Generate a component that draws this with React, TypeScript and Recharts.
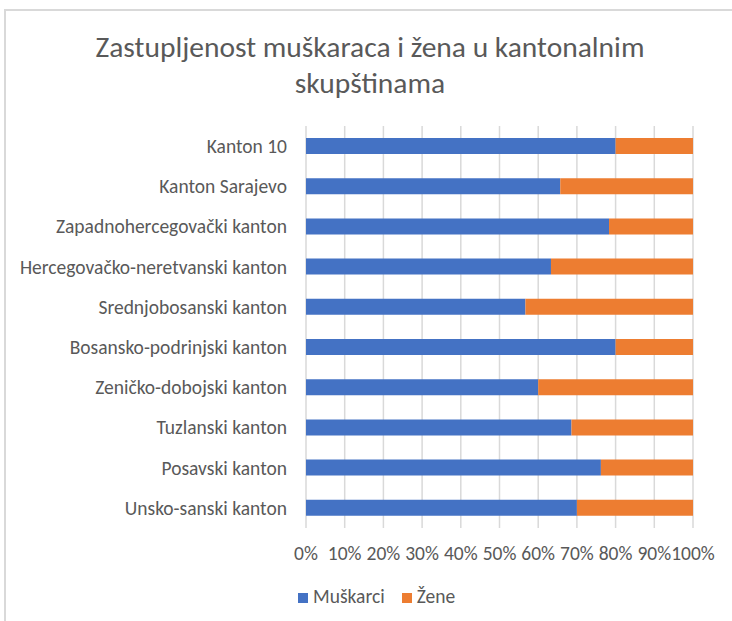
import React from "react";
import { BarChart, Bar, XAxis, YAxis, CartesianGrid } from "recharts";

const cantons = [
  "Unsko-sanski kanton",
  "Posavski kanton",
  "Tuzlanski kanton",
  "Zeničko-dobojski kanton",
  "Bosansko-podrinjski kanton",
  "Srednjobosanski kanton",
  "Hercegovačko-neretvanski kanton",
  "Zapadnohercegovački kanton",
  "Kanton Sarajevo",
  "Kanton 10",
];
const muskarci = [70.0, 76.2, 68.6, 60.0, 80.0, 56.7, 63.3, 78.3, 65.7, 80.0];
const zene = [30.0, 23.8, 31.4, 40.0, 20.0, 43.3, 36.7, 21.7, 34.3, 20.0];
const xTicks = [0, 0.1, 0.2, 0.3, 0.4, 0.5, 0.6, 0.7, 0.8, 0.9, 1];
const titleLines = ["Zastupljenost muškaraca i žena u kantonalnim", "skupštinama"];
const series = [
  { key: "Muškarci", color: "#4472C4" },
  { key: "Žene", color: "#ED7D31" },
];

const data = cantons.map((name, i) => ({
  name,
  "Muškarci": muskarci[i],
  "Žene": zene[i],
}));

const FONT = "Carlito, Calibri, 'Open Sans', sans-serif";
const TEXT = "#595959";

export default function App() {
  return (
    <div
      style={{
        position: "absolute",
        left: 0,
        top: 0,
        width: 732,
        height: 621,
        overflow: "hidden",
        background: "#fff",
        fontFamily: FONT,
      }}
    >
      <div
        style={{
          position: "absolute",
          left: 4,
          top: 9,
          width: 800,
          height: 700,
          borderTop: "2px solid #d9d9d9",
          borderLeft: "2px solid #d9d9d9",
        }}
      />
      <div
        style={{
          position: "absolute",
          left: 6,
          top: 29,
          width: 728,
          textAlign: "center",
          color: TEXT,
          fontSize: 29.5,
          lineHeight: "36px",
          whiteSpace: "nowrap",
        }}
      >
        {titleLines.map((l) => (
          <div key={l}>{l}</div>
        ))}
      </div>
      <div style={{ position: "absolute", left: 0, top: 0 }}>
        <BarChart
          width={732}
          height={621}
          data={data}
          layout="vertical"
          stackOffset="expand"
          margin={{ top: 126, right: 39, bottom: 63, left: 0 }}
          barSize={16}
        >
          <CartesianGrid horizontal={false} stroke="#d9d9d9" strokeWidth={1.5} />
          <XAxis
            type="number"
            domain={[0, 1]}
            ticks={xTicks}
            interval={0}
            tickFormatter={(v: number) => `${Math.round(v * 100)}%`}
            axisLine={false}
            tickLine={false}
            tickSize={0}
            tickMargin={18}
            height={30}
            tick={{ fill: TEXT, fontSize: 19.5, fontFamily: FONT }}
          />
          <YAxis
            type="category"
            dataKey="name"
            reversed
            width={306}
            interval={0}
            axisLine={false}
            tickLine={false}
            tickSize={0}
            tickMargin={19}
            tick={{ fill: TEXT, fontSize: 19.5, fontFamily: FONT }}
          />
          {series.map((s) => (
            <Bar
              key={s.key}
              dataKey={s.key}
              stackId="a"
              fill={s.color}
              isAnimationActive={false}
            />
          ))}
        </BarChart>
      </div>
      <div
        style={{
          position: "absolute",
          left: 298,
          top: 585,
          display: "flex",
          alignItems: "center",
          color: TEXT,
          fontSize: 19.5,
          lineHeight: "22px",
          whiteSpace: "nowrap",
        }}
      >
        {series.map((s, i) => (
          <div
            key={s.key}
            style={{ display: "flex", alignItems: "center", marginRight: i === 0 ? 17 : 0 }}
          >
            <span
              style={{
                display: "inline-block",
                width: 10,
                height: 10,
                background: s.color,
                marginRight: 5,
                position: "relative",
                top: 2,
              }}
            />
            <span>{s.key}</span>
          </div>
        ))}
      </div>
    </div>
  );
}
